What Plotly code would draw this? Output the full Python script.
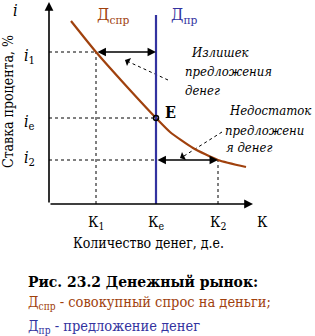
import plotly.graph_objects as go

# Data (abstract units, origin at axes corner)
demand_x = [22, 47, 80, 107, 121, 144, 169, 197]
demand_y = [183, 152, 115, 86, 72, 56, 44, 37]
supply_x = [107, 107]
supply_y = [0, 189]
K_pos = {"K1": 47, "Ke": 107, "K2": 169}
i_pos = {"i1": 152, "ie": 86, "i2": 44}

BROWN = "#A0410D"
BLUE = "#3333A0"
SERIF = "DejaVu Serif Condensed, DejaVu Serif"
XW, YH = 204.0, 202.0

fig = go.Figure()

dot = dict(color="black", width=1, dash="dot")
fig.add_trace(go.Scatter(x=[0, K_pos["K1"]], y=[i_pos["i1"]] * 2, mode="lines", line=dot))
fig.add_trace(go.Scatter(x=[K_pos["K1"]] * 2, y=[0, i_pos["i1"]], mode="lines", line=dot))
fig.add_trace(go.Scatter(x=[0, K_pos["Ke"]], y=[i_pos["ie"]] * 2, mode="lines", line=dot))
fig.add_trace(go.Scatter(x=[0, K_pos["Ke"]], y=[i_pos["i2"]] * 2, mode="lines", line=dot))
fig.add_trace(go.Scatter(x=[K_pos["K2"]] * 2, y=[0, i_pos["i2"]], mode="lines", line=dot))
fig.add_trace(go.Scatter(x=[119, 80], y=[124, 142], mode="lines", line=dot))
fig.add_trace(go.Scatter(x=[173, 135], y=[72, 48], mode="lines", line=dot))

fig.add_trace(go.Scatter(x=demand_x, y=demand_y, mode="lines",
                         line=dict(color=BROWN, width=2.2, shape="spline", smoothing=0.6)))
fig.add_trace(go.Scatter(x=supply_x, y=supply_y, mode="lines",
                         line=dict(color=BLUE, width=2.2)))
fig.add_trace(go.Scatter(x=[K_pos["Ke"]], y=[i_pos["ie"]], mode="markers",
                         marker=dict(size=5, color="rgba(0,0,0,0)",
                                     line=dict(color="black", width=1.5))))

ann = []
def arrow(x0, y0, x1, y1, side="end", w=1.3, head=2, size=1.2):
    ann.append(dict(x=x1, y=y1, ax=x0, ay=y0, xref="x", yref="y", axref="x", ayref="y",
                    showarrow=True, arrowhead=head, arrowsize=size, arrowwidth=w,
                    arrowcolor="black", arrowside=side, text=""))

arrow(0, 0, 204, 0, w=1.6, size=1.1)
arrow(0, 0, 0, 202, w=1.6, size=1.1)
arrow(K_pos["K1"], i_pos["i1"], K_pos["Ke"], i_pos["i1"], side="end+start", w=1.3, size=1.3)
arrow(K_pos["Ke"], i_pos["i2"], K_pos["K2"], i_pos["i2"], side="end+start", w=1.3, size=1.3)
arrow(80, 142, 76, 144, w=1, head=1, size=1.5)
arrow(135, 48, 131, 46, w=1, head=1, size=1.5)

def txt(x, y, s, size=14, color="black", xanchor="center", angle=0):
    ann.append(dict(x=x / XW, y=y / YH, xref="paper", yref="paper", text=s, showarrow=False,
                    xanchor=xanchor, yanchor="middle", textangle=angle,
                    font=dict(family=SERIF, size=size, color=color)))

txt(-34, 194, "<i>i</i>", 16)
txt(-20, 148, "<i>i</i><sub>1</sub>", 16)
txt(-20, 82, "<i>i</i><sub>e</sub>", 16)
txt(-20, 46, "<i>i</i><sub>2</sub>", 16)
txt(K_pos["K1"], -18, "К<sub>1</sub>", 15)
txt(K_pos["Ke"], -18, "К<sub>e</sub>", 15)
txt(K_pos["K2"], -18, "К<sub>2</sub>", 15)
txt(213, -18, "К", 15)
txt(99, -39, "Количество денег, д.е.", 14)
txt(-41, 102, "Ставка процента, %", 14, angle=-90)
txt(64, 188, "Д<sub>спр</sub>", 17, BROWN)
txt(135, 188, "Д<sub>пр</sub>", 17, BLUE)
txt(121, 92, "<b>E</b>", 16)
txt(140, 152, "<i>Излишек</i>", 13, xanchor="left")
txt(134, 133, "<i>предложения</i>", 13, xanchor="left")
txt(134, 114, "<i>денег</i>", 13, xanchor="left")
txt(178, 94, "<i>Недостаток</i>", 13, xanchor="left")
txt(174, 74, "<i>предложени</i>", 13, xanchor="left")
txt(175, 57, "<i>я денег</i>", 13, xanchor="left")
txt(-23, -77, "<b>Рис. 23.2 Денежный рынок:</b>", 15.5, xanchor="left")
txt(-23, -99, "Д<sub>спр</sub> - совокупный спрос на деньги;", 14.5, BROWN, xanchor="left")
txt(-23, -123, "Д<sub>пр</sub> - предложение денег", 14.5, BLUE, xanchor="left")

fig.update_layout(
    width=315, height=336, margin=dict(l=49, r=62, t=2, b=132, pad=0),
    paper_bgcolor="white", plot_bgcolor="white", showlegend=False,
    xaxis=dict(range=[0, 204], visible=False, fixedrange=True),
    yaxis=dict(range=[0, 202], visible=False, fixedrange=True),
    annotations=ann,
)
fig.update_traces(cliponaxis=False, hoverinfo="skip")
fig.write_html("out.html", config={"displayModeBar": False})
